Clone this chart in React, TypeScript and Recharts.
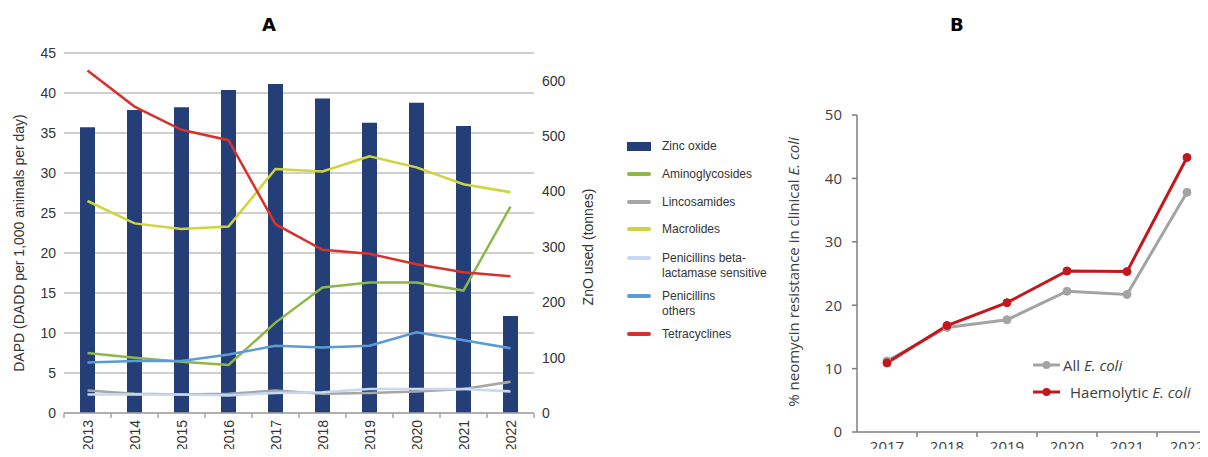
import React from "react";
import { ComposedChart, LineChart, Bar, Line, XAxis, YAxis, CartesianGrid } from "recharts";

// ---- Panel A: antimicrobial use (DAPD) and zinc oxide (tonnes) ----
const yearsA = ["2013", "2014", "2015", "2016", "2017", "2018", "2019", "2020", "2021", "2022"];
const zincOxide = [516, 547, 552, 583, 594, 568, 524, 560, 518, 175];
const aminoglycosides = [7.5, 6.9, 6.4, 6.0, 11.3, 15.7, 16.3, 16.3, 15.3, 25.8];
const lincosamides = [2.8, 2.4, 2.3, 2.4, 2.8, 2.4, 2.5, 2.7, 3.0, 3.9];
const macrolides = [26.5, 23.7, 23.0, 23.3, 30.5, 30.2, 32.1, 30.7, 28.6, 27.6];
const penBetaSensitive = [2.3, 2.3, 2.3, 2.2, 2.5, 2.6, 3.0, 3.0, 3.0, 2.7];
const penOthers = [6.3, 6.5, 6.5, 7.3, 8.4, 8.2, 8.4, 10.1, 9.1, 8.1];
const tetracyclines = [42.8, 38.3, 35.4, 34.1, 23.6, 20.4, 19.9, 18.6, 17.6, 17.1];

const leftTicksA = [0, 5, 10, 15, 20, 25, 30, 35, 40, 45];
const rightTicksA = [0, 100, 200, 300, 400, 500, 600];

// ---- Panel B: neomycin resistance ----
const yearsB = ["2017", "2018", "2019", "2020", "2021", "2022"];
const allEcoli = [11.2, 16.5, 17.7, 22.2, 21.7, 37.8];
const haemolyticEcoli = [10.9, 16.8, 20.4, 25.4, 25.3, 43.3];
const ticksB = [0, 10, 20, 30, 40, 50];

const linesA = [
  { key: "amino", name: ["Aminoglycosides"], color: "#8db848", values: aminoglycosides },
  { key: "linco", name: ["Lincosamides"], color: "#a6a6a6", values: lincosamides },
  { key: "macro", name: ["Macrolides"], color: "#cdd43c", values: macrolides },
  { key: "penBeta", name: ["Penicillins beta-", "lactamase sensitive"], color: "#c6d9f1", values: penBetaSensitive },
  { key: "penOther", name: ["Penicillins", "others"], color: "#5b9bd5", values: penOthers },
  { key: "tetra", name: ["Tetracyclines"], color: "#d9322d", values: tetracyclines },
];

const dataA = yearsA.map((year, i) => {
  const row: Record<string, number | string> = { year, zinc: zincOxide[i] };
  linesA.forEach((s) => (row[s.key] = s.values[i]));
  return row;
});

const dataB = yearsB.map((year, i) => ({ year, all: allEcoli[i], haem: haemolyticEcoli[i] }));

const FONT_A = "'Liberation Sans', Arial, sans-serif";
const FONT_B = "'Open Sans', 'Noto Sans', sans-serif";
const ZINC = "#243f78";
const GREY_B = "#a3a3a3";
const RED_B = "#c3161d";

// chart geometry
const A_W = 620, A_H = 457, A_TOP = 53, A_LEFT_AX = 64, A_RIGHT_AX = 86, A_X_AX = 44;
const A_AXIS_Y = A_H - A_X_AX;
const A_BAND = (A_W - A_LEFT_AX - A_RIGHT_AX) / yearsA.length;
const B_W = 460, B_H = 457, B_TOP = 115, B_Y_AX = 97, B_X_AX = 25, B_RIGHT = 3;
const B_AXIS_Y = B_H - B_X_AX;
const B_BAND = (B_W - B_Y_AX - B_RIGHT) / yearsB.length;

// legend rows (first text line centre)
const legendTopsA = [146, 174, 202, 229, 258, 296, 334];

function YearTickA(props: any) {
  const { x, payload, index } = props;
  const y = A_AXIS_Y;
  const last = index === yearsA.length - 1;
  return (
    <g>
      <line x1={x - A_BAND / 2} x2={x - A_BAND / 2} y1={y} y2={y + 5} stroke="#a6a6a6" strokeWidth={1.5} />
      {last && <line x1={x + A_BAND / 2} x2={x + A_BAND / 2} y1={y} y2={y + 5} stroke="#a6a6a6" strokeWidth={1.5} />}
      <text
        x={x}
        y={y + 7}
        transform={`rotate(-90, ${x}, ${y + 7})`}
        textAnchor="end"
        dominantBaseline="central"
        fontSize={14}
        fill="#333"
        fontFamily={FONT_A}
      >
        {payload.value}
      </text>
    </g>
  );
}

function YearTickB(props: any) {
  const { x, payload } = props;
  const y = B_AXIS_Y;
  return (
    <g>
      <line x1={x + B_BAND / 2} x2={x + B_BAND / 2} y1={y} y2={y + 5} stroke="#7f7f7f" strokeWidth={1.5} />
      <text x={x} y={y + 20} textAnchor="middle" fontSize={15} fill="#404040" fontFamily={FONT_B}>
        {payload.value}
      </text>
    </g>
  );
}

function LegendA() {
  const items = [{ key: "zinc", name: ["Zinc oxide"], color: ZINC }, ...linesA];
  return (
    <>
      {items.map((it, i) => (
        <div
          key={it.key}
          style={{ position: "absolute", left: 627, top: legendTopsA[i] - 8, display: "flex", fontFamily: FONT_A, fontSize: 12, color: "#333" }}
        >
          <div style={{ width: 24, height: 16, display: "flex", alignItems: "center" }}>
            <div style={{ width: 24, height: it.key === "zinc" ? 9 : 4, background: it.color, borderRadius: it.key === "zinc" ? 0 : 2 }} />
          </div>
          <div style={{ marginLeft: 11, lineHeight: "15px", paddingTop: 1 }}>
            {it.name.map((n) => (
              <div key={n}>{n}</div>
            ))}
          </div>
        </div>
      ))}
    </>
  );
}

function LegendB() {
  const items = [
    { key: "all", label: "All", color: GREY_B, top: 365, gap: 3 },
    { key: "haem", label: "Haemolytic", color: RED_B, top: 392, gap: 10 },
  ];
  return (
    <>
      {items.map((it) => (
        <div
          key={it.key}
          style={{ position: "absolute", left: 1033, top: it.top - 11, height: 22, display: "flex", alignItems: "center", fontFamily: FONT_B, fontSize: 15, color: "#404040" }}
        >
          <svg width={27} height={10}>
            <line x1={0} x2={27} y1={5} y2={5} stroke={it.color} strokeWidth={3} />
            <circle cx={13.5} cy={5} r={4} fill={it.color} />
          </svg>
          <span style={{ marginLeft: it.gap, whiteSpace: "nowrap" }}>
            {it.label} <i>E. coli</i>
          </span>
        </div>
      ))}
    </>
  );
}

export default function App() {
  return (
    <div style={{ position: "relative", width: 1208, height: 457, margin: -8, overflow: "hidden", background: "#fff" }}>
      <div style={{ position: "absolute", left: 262, top: 14, fontFamily: "'DejaVu Sans', sans-serif", fontWeight: 700, fontSize: 18 }}>A</div>
      <div style={{ position: "absolute", left: 950, top: 14, fontFamily: "'DejaVu Sans', sans-serif", fontWeight: 700, fontSize: 18 }}>B</div>

      <div style={{ position: "absolute", left: 0, top: 0 }}>
        <ComposedChart width={A_W} height={A_H} data={dataA} margin={{ top: A_TOP, right: 0, bottom: 0, left: 0 }}>
          <CartesianGrid vertical={false} yAxisId="left" stroke="#bfbfbf" strokeWidth={1.5} />
          <XAxis
            dataKey="year"
            height={A_X_AX}
            axisLine={{ stroke: "#a6a6a6", strokeWidth: 1.5 }}
            tickLine={false}
            interval={0}
            tick={<YearTickA />}
          />
          <YAxis
            yAxisId="left"
            width={A_LEFT_AX}
            domain={[0, 45]}
            ticks={leftTicksA}
            axisLine={false}
            tickLine={false}
            tick={{ fontSize: 14, fill: "#333", fontFamily: FONT_A }}
          />
          <YAxis
            yAxisId="right"
            orientation="right"
            width={A_RIGHT_AX}
            domain={[0, 650]}
            ticks={rightTicksA}
            axisLine={false}
            tickLine={false}
            tick={{ fontSize: 14, fill: "#333", fontFamily: FONT_A, textAnchor: "start" }}
          />
          <Bar yAxisId="right" dataKey="zinc" fill={ZINC} barSize={15} isAnimationActive={false} />
          {linesA.map((s) => (
            <Line
              key={s.key}
              yAxisId="left"
              dataKey={s.key}
              type="linear"
              stroke={s.color}
              strokeWidth={2.5}
              dot={false}
              isAnimationActive={false}
            />
          ))}
          <text x={19} y={243} transform="rotate(-90, 19, 243)" textAnchor="middle" dominantBaseline="central" fontSize={14} fill="#333" fontFamily={FONT_A}>
            DAPD (DADD per 1,000 animals per day)
          </text>
          <text x={588} y={247} transform="rotate(-90, 588, 247)" textAnchor="middle" dominantBaseline="central" fontSize={14} fill="#333" fontFamily={FONT_A}>
            ZnO used (tonnes)
          </text>
        </ComposedChart>
      </div>
      <LegendA />

      <div style={{ position: "absolute", left: 760, top: 0 }}>
        <LineChart width={B_W} height={B_H} data={dataB} margin={{ top: B_TOP, right: B_RIGHT, bottom: 0, left: 0 }}>
          <XAxis
            dataKey="year"
            scale="band"
            height={B_X_AX}
            axisLine={{ stroke: "#7f7f7f", strokeWidth: 1.5 }}
            tickLine={false}
            interval={0}
            tick={<YearTickB />}
          />
          <YAxis
            width={B_Y_AX}
            domain={[0, 50]}
            ticks={ticksB}
            axisLine={{ stroke: "#7f7f7f", strokeWidth: 1.5 }}
            tickLine={{ stroke: "#7f7f7f", strokeWidth: 1.5 }}
            tickSize={5}
            tickMargin={10}
            tick={{ fontSize: 15, fill: "#404040", fontFamily: FONT_B }}
          />
          <Line dataKey="all" type="linear" stroke={GREY_B} strokeWidth={3} dot={{ r: 4, fill: GREY_B, stroke: GREY_B, strokeWidth: 1 }} isAnimationActive={false} />
          <Line dataKey="haem" type="linear" stroke={RED_B} strokeWidth={3} dot={{ r: 4, fill: RED_B, stroke: RED_B, strokeWidth: 1 }} isAnimationActive={false} />
          <text x={33} y={272} transform="rotate(-90, 33, 272)" textAnchor="middle" dominantBaseline="central" fontSize={15} fill="#404040" fontFamily={FONT_B}>
            % neomycin resistance in clinical <tspan fontStyle="italic">E. coli</tspan>
          </text>
        </LineChart>
      </div>
      <LegendB />
    </div>
  );
}
